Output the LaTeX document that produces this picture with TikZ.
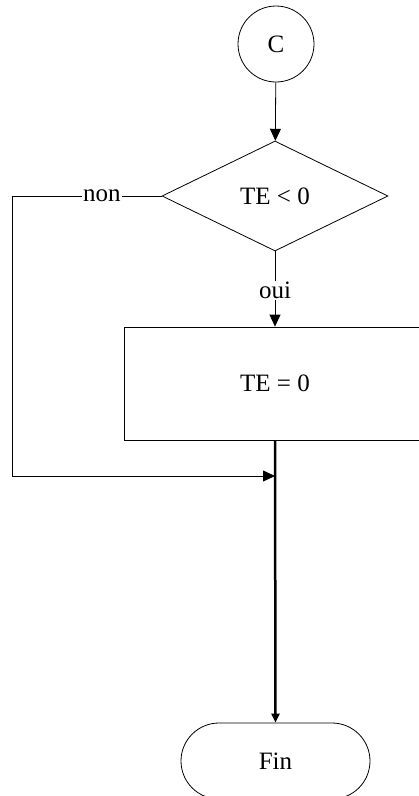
\documentclass[tikz,border=0pt]{standalone}
\usepackage{fontspec}
\setmainfont{Liberation Serif}
\usetikzlibrary{shapes.geometric,shapes.misc,arrows.meta}
\begin{document}
\begin{tikzpicture}[x=1pt,y=-1pt,
  every node/.style={font=\fontsize{25}{29}\selectfont},
  line/.style={draw, line width=0.8pt},
  arr/.style={line, -{Triangle[length=12pt,width=11pt]}},
  lbl/.style={fill=white, inner sep=1pt}]
\useasboundingbox (0,0) rectangle (419,796);
\clip (0,0) rectangle (419,796);
\node[circle, draw, line width=0.8pt, minimum size=76pt, inner sep=0pt] (c) at (276,44) {C};
\node[diamond, draw, line width=0.8pt, minimum width=226pt, minimum height=110pt, inner sep=0pt] (d) at (275,196) {TE < 0};
\node[rectangle, draw, line width=0.8pt, minimum width=302pt, minimum height=113pt, inner sep=0pt] (r) at (275,383.5) {TE = 0};
\node[rounded rectangle, draw, line width=0.8pt, minimum width=189pt, minimum height=76pt, inner sep=0pt] (fin) at (275.5,761) {Fin};
\coordinate (nl) at (12,196);
\coordinate (nb) at (12,476);
\coordinate (j) at (275,476);
\draw[arr] (c) -- (d);
\draw[arr] (d.south) -- node[lbl, pos=0.52] {oui} (r.north);
\draw[line] (d.west) -- node[lbl, pos=0.4] {non} (nl) -- (nb);
\draw[arr] (nb) -- (j);
\draw[line width=2.5pt, -{Triangle[length=9pt,width=8pt]}] (r.south) -- (fin.north);
\end{tikzpicture}
\end{document}
